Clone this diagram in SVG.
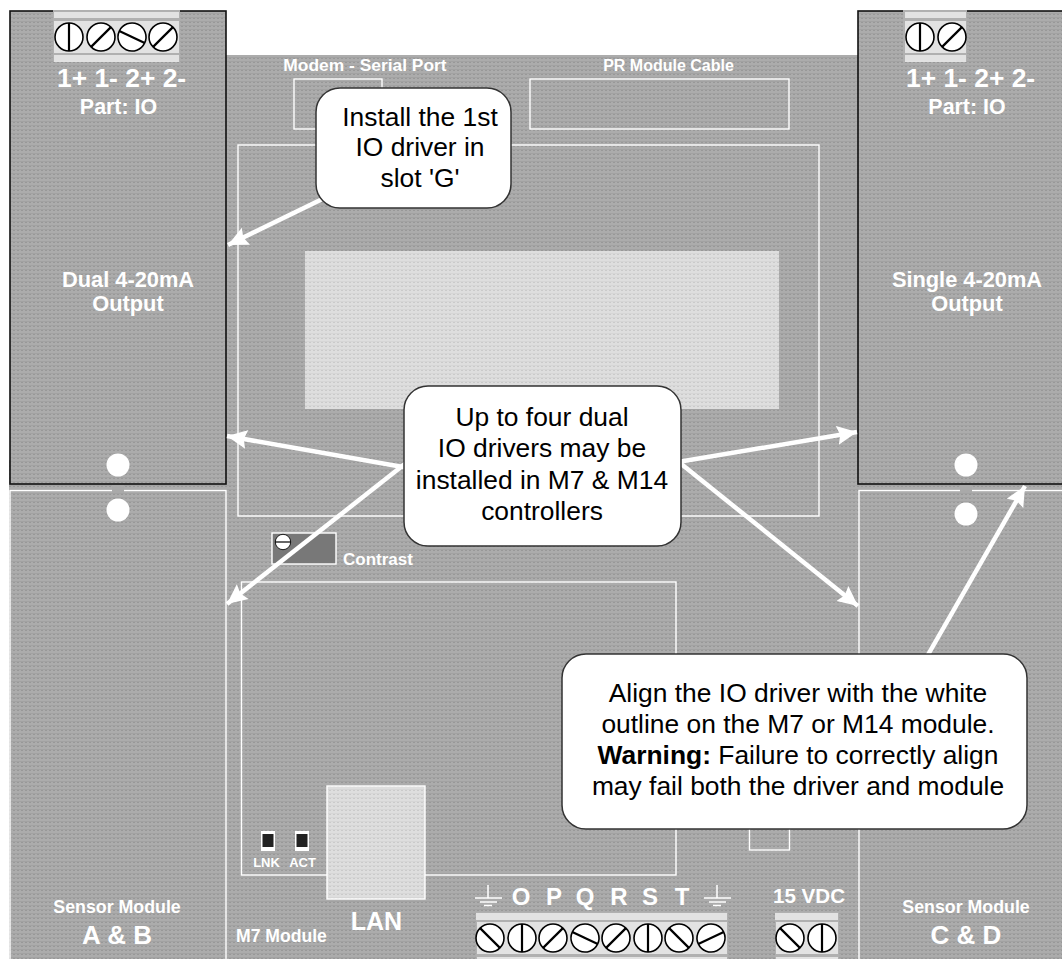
<svg xmlns="http://www.w3.org/2000/svg" width="1062" height="959" viewBox="0 0 1062 959">
<defs>
<pattern id="g" width="4" height="4" patternUnits="userSpaceOnUse"><rect width="4" height="4" fill="#acacac"/><rect x="0" y="1" width="4" height="1" fill="#a2a2a2"/><rect x="1" y="2" width="2" height="1" fill="#989898"/></pattern>
<pattern id="l" width="4" height="4" patternUnits="userSpaceOnUse"><rect width="4" height="4" fill="#dedede"/><rect x="0" y="1" width="4" height="1" fill="#d6d6d6"/><rect x="1" y="2" width="2" height="1" fill="#cacaca"/></pattern>
<marker id="a" markerUnits="userSpaceOnUse" markerWidth="22" markerHeight="20" refX="20" refY="10" orient="auto"><path d="M0 0.5L20 10L0 19.5L3 10Z" fill="#fff"/></marker>
<g id="sc"><circle r="14" fill="#fff" stroke="#000" stroke-width="1.6"/><path d="M0-14V14" stroke="#000" stroke-width="2.2"/></g>
</defs>
<style>
text{font-family:"Liberation Sans",Arial,sans-serif}
.w{fill:#fff;font-weight:bold}
.c{text-anchor:middle}
.o{fill:none;stroke:#fff;stroke-width:1.4}
.b{fill:#fff;stroke:#333;stroke-width:1.5}
.k{fill:#000;font-size:26.4px;text-anchor:middle}
.s{fill:#e2e2e2;stroke:none}
</style>
<rect width="1062" height="959" fill="#fff"/>
<g id="board">
<rect x="226" y="55" width="632" height="904" fill="url(#g)"/>
<rect x="858" y="55" width="204" height="904" fill="url(#g)"/>
<rect x="9" y="460" width="217" height="499" fill="url(#g)"/>
</g>
<g id="board-outlines">
<rect class="o" x="294" y="79" width="88" height="50"/>
<rect class="o" x="530" y="79" width="259" height="50"/>
<rect class="o" x="238" y="145" width="581" height="371"/>
<rect x="305" y="251" width="474" height="158" fill="url(#l)"/>
<rect class="o" x="241.500" y="582" width="434.500" height="293"/>
<rect class="o" x="749.500" y="780" width="40" height="70"/>
<text class="w c" x="365" y="71" font-size="17.400">Modem - Serial Port</text>
<text class="w c" x="668.500" y="71" font-size="16">PR Module Cable</text>
<text class="w" x="343" y="565" font-size="17">Contrast</text>
<text class="w" x="236" y="942" font-size="17.600">M7 Module</text>
</g>
<g id="contrast">
<rect x="272" y="533" width="64" height="31" fill="#787878" stroke="#fff" stroke-width="1.4"/>
<use href="#sc" transform="translate(283,542) rotate(90) scale(.55)"/>
</g>
<g id="sensor-ab"><rect class="o" x="10" y="490.500" width="216" height="480"/>
<text class="w c" x="117" y="913" font-size="17.800">Sensor Module</text>
<text class="w c" x="117" y="944" font-size="26">A &amp; B</text></g>
<g id="sensor-cd"><rect class="o" x="859" y="490.500" width="210" height="480"/>
<text class="w c" x="966" y="913" font-size="17.800">Sensor Module</text>
<text class="w c" x="966" y="944" font-size="26">C &amp; D</text></g>
<g id="driver-dual">
<rect x="10" y="11" width="216" height="473" fill="url(#g)" stroke="#111" stroke-width="1.6"/>
<rect x="53" y="10" width="127" height="52" fill="#b0b0b0"/>
<rect x="54" y="12" width="125" height="6" class="s"/><rect x="54" y="21" width="125" height="32" class="s"/><rect x="54" y="55" width="125" height="7" class="s"/>
<use href="#sc" transform="translate(69,37)"/>
<use href="#sc" transform="translate(101,37) rotate(45)"/>
<use href="#sc" transform="translate(132,37) rotate(-65)"/>
<use href="#sc" transform="translate(163,37) rotate(45)"/>
<text class="w" x="57" y="87" font-size="26.400">1+ 1- 2+ 2-</text>
<text class="w c" x="118.500" y="114" font-size="21.400">Part: IO</text>
<text class="w c" x="128" y="287" font-size="21.800">Dual 4-20mA</text>
<text class="w c" x="128" y="311" font-size="21.800">Output</text>
</g>
<g id="driver-single">
<rect x="858" y="11" width="215" height="473" fill="url(#g)" stroke="#111" stroke-width="1.6"/>
<rect x="903" y="10" width="64" height="52" fill="#b0b0b0"/>
<rect x="905" y="12" width="61" height="6" class="s"/><rect x="905" y="21" width="61" height="32" class="s"/><rect x="905" y="55" width="61" height="7" class="s"/>
<use href="#sc" transform="translate(920,37)"/>
<use href="#sc" transform="translate(952,37) rotate(45)"/>
<text class="w" x="906" y="87" font-size="26.400">1+ 1- 2+ 2-</text>
<text class="w c" x="967" y="114" font-size="21.400">Part: IO</text>
<text class="w c" x="967" y="287" font-size="21.800">Single 4-20mA</text>
<text class="w c" x="967" y="311" font-size="21.800">Output</text>
</g>
<g id="holes">
<g fill="#a9a9a9"><rect x="112" y="485" width="12" height="8"/><rect x="960" y="485" width="12" height="8"/></g>
<g fill="#fff"><circle cx="118" cy="465" r="11.500"/><circle cx="118" cy="510" r="11.500"/>
<circle cx="966" cy="465" r="11.500"/><circle cx="966" cy="514" r="11.500"/></g>
</g>
<g id="lan">
<rect x="327" y="786" width="98" height="113" fill="url(#l)" stroke="#fff" stroke-width="1.4"/>
<text class="w c" x="376.500" y="930" font-size="25">LAN</text>
<rect x="261" y="831" width="14" height="20" fill="#fff"/><rect x="262.500" y="834" width="11" height="13" fill="#222"/>
<rect x="295" y="831" width="14" height="20" fill="#fff"/><rect x="296.500" y="834" width="11" height="13" fill="#222"/>
<text class="w c" x="266.500" y="867" font-size="13">LNK</text>
<text class="w c" x="302.500" y="867" font-size="13">ACT</text>
</g>
<g id="terminal-main">
<g stroke="#fff" stroke-width="1.500" fill="none"><path d="M488 885V898M475 898H502M480 902H497M484 905.500H492"/><path d="M717 885V898M704 898H731M709 902H726M713 905.500H721"/></g>
<text class="w c" x="521" y="905" font-size="24">O</text><text class="w c" x="554" y="905" font-size="24">P</text><text class="w c" x="585" y="905" font-size="24">Q</text><text class="w c" x="619" y="905" font-size="24">R</text><text class="w c" x="650" y="905" font-size="24">S</text><text class="w c" x="682" y="905" font-size="24">T</text>
<rect x="476" y="912" width="252" height="47" fill="#b0b0b0"/>
<rect x="476" y="913" width="251" height="7" class="s"/><rect x="477" y="922" width="250" height="32" class="s"/><rect x="477" y="957" width="250" height="2" class="s"/>
<use href="#sc" transform="translate(490,938) rotate(-45)"/>
<use href="#sc" transform="translate(522,938)"/>
<use href="#sc" transform="translate(553,938) rotate(45)"/>
<use href="#sc" transform="translate(585,938) rotate(-65)"/>
<use href="#sc" transform="translate(616,938) rotate(45)"/>
<use href="#sc" transform="translate(648,938)"/>
<use href="#sc" transform="translate(679,938) rotate(-45)"/>
<use href="#sc" transform="translate(711,938) rotate(65)"/>
</g>
<g id="terminal-15v">
<text class="w c" x="809" y="903" font-size="20.600">15 VDC</text>
<rect x="775" y="912" width="64" height="47" fill="#b0b0b0"/>
<rect x="775" y="913" width="63" height="7" class="s"/><rect x="776" y="922" width="62" height="32" class="s"/><rect x="776" y="957" width="62" height="2" class="s"/>
<use href="#sc" transform="translate(790,938) rotate(-45)"/>
<use href="#sc" transform="translate(822,938)"/>
</g>
<g id="connectors" stroke="#fff" stroke-width="4.500" fill="none">
<path marker-end="url(#a)" d="M345 188L228 245"/>
<path marker-end="url(#a)" d="M420 470L227 436"/>
<path marker-end="url(#a)" d="M660 465L857 432"/>
<path marker-end="url(#a)" d="M420 452L227 604"/>
<path marker-end="url(#a)" d="M680 463L858 606"/>
<path marker-end="url(#a)" d="M925 660L1025 486"/>
</g>
<g id="callout-1"><rect class="b" x="316" y="88" width="195" height="120" rx="24"/>
<text class="k" x="420" y="126">Install the 1st</text><text class="k" x="420" y="156">IO driver in</text><text class="k" x="420" y="187">slot 'G'</text></g>
<g id="callout-2"><rect class="b" x="404" y="386" width="277" height="160" rx="24"/>
<text class="k" x="542" y="426">Up to four dual</text><text class="k" x="542" y="457">IO drivers may be</text><text class="k" x="542" y="489">installed in M7 &amp; M14</text><text class="k" x="542" y="520">controllers</text></g>
<g id="callout-3"><rect class="b" x="562" y="654" width="465" height="175" rx="24"/>
<text class="k" x="798" y="702">Align the IO driver with the white</text><text class="k" x="798" y="733">outline on the M7 or M14 module.</text><text class="k" x="798" y="764"><tspan font-weight="bold">Warning:</tspan> Failure to correctly align</text><text class="k" x="798" y="795">may fail both the driver and module</text></g>
</svg>
